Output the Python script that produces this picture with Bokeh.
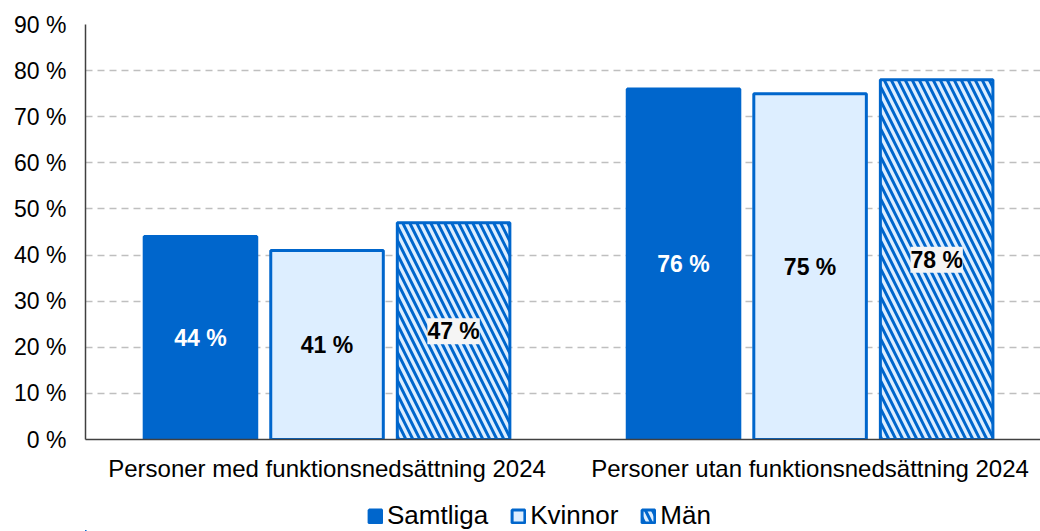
from bokeh.plotting import figure
from bokeh.layouts import column
from bokeh.models import ColumnDataSource, Range1d, FixedTicker, Legend, LegendItem
from bokeh.core.properties import value
from bokeh.embed import file_html
from bokeh.resources import INLINE

groups = ["Personer med funktionsnedsättning 2024", "Personer utan funktionsnedsättning 2024"]
series = ["Samtliga", "Kvinnor", "Män"]
samtliga = [44, 76]
kvinnor = [41, 75]
man = [47, 78]
y_ticks = [0, 10, 20, 30, 40, 50, 60, 70, 80, 90]

BLUE = "#0066CC"
LIGHT = "#DDEEFF"
FONT = "Liberation Sans"

centers = [i + 0.5 for i in range(len(groups))]
offset = 0.262
bw = 0.233

styles = [
    dict(fill_color=BLUE, line_color=BLUE, line_width=3),
    dict(fill_color=LIGHT, line_color=BLUE, line_width=3),
    dict(fill_color=LIGHT, line_color=BLUE, line_width=3,
         hatch_pattern="left_diagonal_line", hatch_color=BLUE, hatch_weight=3, hatch_scale=14),
]

p = figure(width=1040, height=490, output_backend="svg", toolbar_location=None,
           x_range=Range1d(0, 1.977), y_range=Range1d(0, 90),
           min_border_left=85, min_border_top=24, min_border_right=0, min_border_bottom=51)
p.outline_line_color = None
p.background_fill_color = "white"

def src(vals, off):
    return ColumnDataSource(dict(
        x=[c + off for c in centers],
        top=vals,
        mid=[v / 2 for v in vals],
        label=[f"{v} %" for v in vals],
    ))

sources = [src(samtliga, -offset), src(kvinnor, 0.0), src(man, offset)]

for s, st in zip(sources, styles):
    p.vbar(x="x", top="top", width=bw, source=s, **st)

for s, col in [(sources[0], "white"), (sources[1], "black")]:
    p.text(x="x", y="mid", text="label", source=s, text_color=col, text_align="center",
           text_baseline="middle", text_font=value(FONT), text_font_size="23px",
           text_font_style="bold")
p.text(x="x", y="mid", text="label", source=sources[2], text_color="black", text_align="center",
       text_baseline="middle", text_font=value(FONT), text_font_size="23px",
       text_font_style="bold", background_fill_color="#F5F5F5")

# axes
p.yaxis.ticker = FixedTicker(ticks=y_ticks)
p.yaxis.major_label_overrides = {v: f"{v} %" for v in y_ticks}
p.yaxis.major_label_text_font = FONT
p.yaxis.major_label_text_font_size = "23px"
p.yaxis.major_label_text_color = "black"
p.yaxis.major_tick_line_color = None
p.yaxis.minor_tick_line_color = None
p.yaxis.axis_line_color = "#404040"
p.yaxis.axis_line_width = 1.5
p.yaxis.major_label_standoff = 13

p.xaxis.ticker = FixedTicker(ticks=centers)
p.xaxis.major_label_overrides = {c: g for c, g in zip(centers, groups)}
p.xaxis.major_label_text_font = FONT
p.xaxis.major_label_text_font_size = "24px"
p.xaxis.major_label_text_color = "black"
p.xaxis.major_tick_line_color = None
p.xaxis.minor_tick_line_color = None
p.xaxis.axis_line_color = "#404040"
p.xaxis.axis_line_width = 1.5
p.xaxis.major_label_standoff = 9

p.xgrid.grid_line_color = None
p.ygrid.ticker = FixedTicker(ticks=y_ticks[1:])
p.ygrid.grid_line_color = "#BFBFBF"
p.ygrid.grid_line_dash = "7 5"
p.ygrid.grid_line_width = 1.5

# legend strip below the chart (proxy renderers use the same data, kept out of view)
lg = figure(width=1040, height=41, output_backend="svg", toolbar_location=None,
            x_axis_location=None, y_axis_location=None,
            x_range=Range1d(100, 101), y_range=Range1d(500, 501),
            min_border_left=0, min_border_right=0, min_border_top=0, min_border_bottom=0)
lg.grid.visible = False
lg.outline_line_color = None
proxies = [lg.vbar(x="x", top="top", width=bw, source=s, **st) for s, st in zip(sources, styles)]
legend = Legend(items=[LegendItem(label=n, renderers=[r]) for n, r in zip(series, proxies)],
                orientation="horizontal", location=(282, 0),
                label_text_font=FONT, label_text_font_size="26px", label_text_color="black",
                glyph_width=16, glyph_height=16, label_standoff=4, spacing=22,
                padding=0, margin=0, border_line_color=None, background_fill_alpha=0)
lg.add_layout(legend, "center")

open("out.html", "w").write(file_html(column(p, lg, spacing=0), INLINE))
